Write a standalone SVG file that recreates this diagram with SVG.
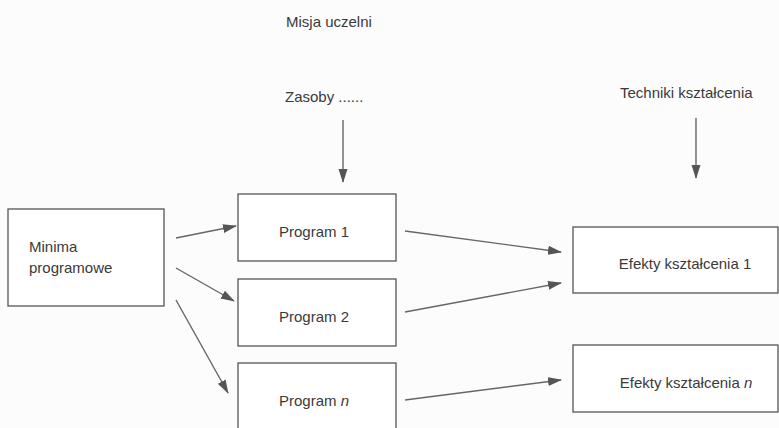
<svg xmlns="http://www.w3.org/2000/svg" width="779" height="428" viewBox="0 0 779 428">
<defs>
<marker id="ah" markerWidth="14" markerHeight="10" refX="13" refY="5" orient="auto" markerUnits="userSpaceOnUse">
<path d="M0,0.5 L14,5 L0,9.5 Z" fill="#555"/>
</marker>
<style>
text{font-family:"Liberation Sans",Arial,sans-serif;font-size:15px;fill:#3a3a3a}
.box{fill:#fff;stroke:#555;stroke-width:1.3}
.c{text-anchor:middle}
.ln{stroke:#666;stroke-width:1.4;fill:none;marker-end:url(#ah)}
</style>
</defs>
<rect width="779" height="428" fill="#fcfcfc"/>
<g id="labels">
<text x="286" y="27">Misja uczelni</text>
<text x="285" y="102">Zasoby ......</text>
<text x="620" y="98">Techniki kształcenia</text>
</g>
<g id="minima"><rect class="box" x="8" y="209" width="156" height="97"/>
<text x="29" y="252">Minima</text><text x="29" y="273">programowe</text></g>
<g id="program1"><rect class="box" x="238" y="194" width="158" height="67"/><text class="c" x="314" y="237">Program 1</text></g>
<g id="program2"><rect class="box" x="238" y="279" width="158" height="67"/><text class="c" x="314" y="322">Program 2</text></g>
<g id="programn"><rect class="box" x="238" y="363" width="158" height="67"/><text class="c" x="314" y="406">Program <tspan font-style="italic">n</tspan></text></g>
<g id="efekty1"><rect class="box" x="573" y="227" width="205" height="66"/><text class="c" x="685" y="269">Efekty kształcenia 1</text></g>
<g id="efektyn"><rect class="box" x="573" y="345" width="205" height="67"/><text class="c" x="686" y="388">Efekty kształcenia <tspan font-style="italic">n</tspan></text></g>
<g id="connectors">
<line class="ln" x1="343" y1="120" x2="343" y2="182"/>
<line class="ln" x1="696" y1="118" x2="696" y2="178"/>
<line class="ln" x1="176" y1="238" x2="236" y2="226"/>
<line class="ln" x1="176" y1="268" x2="234" y2="301"/>
<line class="ln" x1="176" y1="300" x2="228" y2="393"/>
<line class="ln" x1="405" y1="231" x2="561" y2="252"/>
<line class="ln" x1="405" y1="312" x2="561" y2="283"/>
<line class="ln" x1="405" y1="400" x2="561" y2="380"/>
</g>
</svg>
